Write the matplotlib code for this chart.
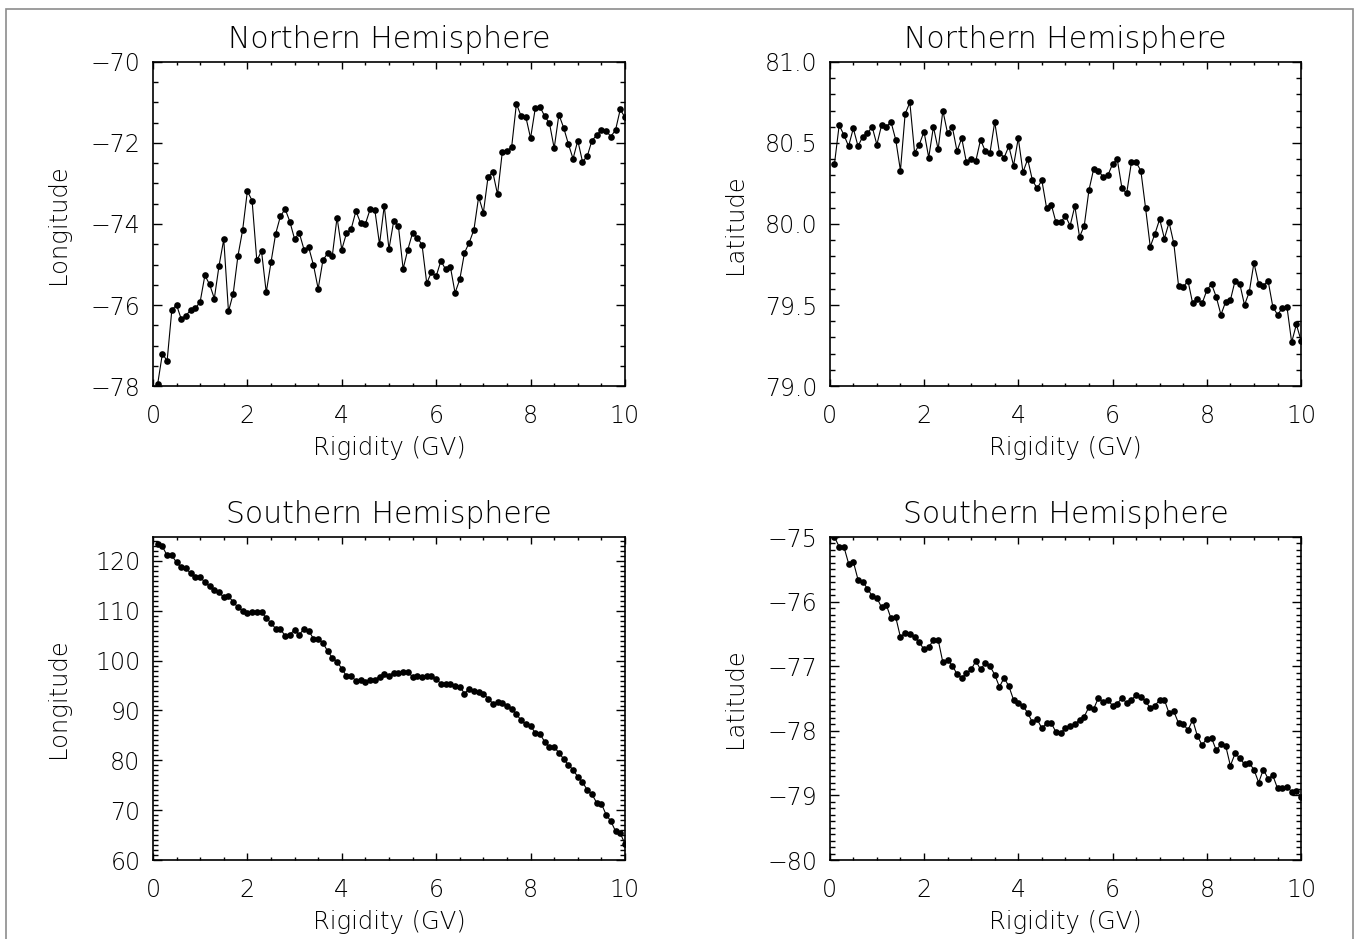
import numpy as np
import matplotlib
matplotlib.use('Agg')
import matplotlib.pyplot as plt
from matplotlib.patches import Rectangle
from matplotlib.ticker import MultipleLocator, FuncFormatter

plt.rcParams['font.family'] = ['DejaVu Sans']
plt.rcParams['font.weight'] = 'light'
plt.rcParams['axes.titleweight'] = 'light'
plt.rcParams['axes.labelweight'] = 'light'

# Rigidity grid (GV)
rigidity = np.round(np.arange(1, 101) * 0.1, 1)

# Northern hemisphere longitude
lon_north = [
    -77.95, -77.20, -77.38, -76.12, -76.00, -76.35, -76.26, -76.12, -76.08, -75.92,
    -75.27, -75.49, -75.84, -75.03, -74.38, -76.16, -75.72, -74.79, -74.15, -73.19,
    -73.42, -74.90, -74.67, -75.69, -74.95, -74.24, -73.81, -73.63, -73.94, -74.37,
    -74.22, -74.63, -74.58, -75.01, -75.60, -74.90, -74.72, -74.78, -73.84, -74.63,
    -74.23, -74.12, -73.68, -73.98, -74.00, -73.64, -73.65, -74.50, -73.55, -74.62,
    -73.93, -74.05, -75.11, -74.63, -74.22, -74.34, -74.51, -75.46, -75.19, -75.29,
    -74.91, -75.12, -75.05, -75.70, -75.37, -74.71, -74.46, -74.14, -73.33, -73.72,
    -72.83, -72.72, -73.27, -72.23, -72.21, -72.09, -71.03, -71.34, -71.36, -71.88,
    -71.14, -71.11, -71.34, -71.51, -72.13, -71.30, -71.62, -72.02, -72.39, -71.94,
    -72.46, -72.33, -71.94, -71.81, -71.68, -71.70, -71.84, -71.68, -71.17, -71.37,
]

# Northern hemisphere latitude
lat_north = [
    80.37, 80.61, 80.55, 80.48, 80.59, 80.48, 80.54, 80.56, 80.60, 80.49,
    80.61, 80.60, 80.63, 80.52, 80.33, 80.68, 80.75, 80.44, 80.49, 80.57,
    80.41, 80.60, 80.46, 80.70, 80.56, 80.60, 80.45, 80.53, 80.38, 80.40,
    80.39, 80.52, 80.45, 80.44, 80.63, 80.44, 80.41, 80.48, 80.36, 80.53,
    80.32, 80.40, 80.27, 80.22, 80.27, 80.10, 80.12, 80.01, 80.01, 80.05,
    79.99, 80.11, 79.92, 79.99, 80.21, 80.34, 80.33, 80.29, 80.30, 80.37,
    80.40, 80.22, 80.19, 80.38, 80.38, 80.33, 80.10, 79.86, 79.94, 80.03,
    79.91, 80.01, 79.88, 79.62, 79.61, 79.65, 79.51, 79.54, 79.51, 79.59,
    79.63, 79.55, 79.44, 79.52, 79.53, 79.65, 79.63, 79.50, 79.58, 79.76,
    79.63, 79.62, 79.65, 79.49, 79.44, 79.48, 79.49, 79.27, 79.38, 79.28,
]

# Southern hemisphere longitude
lon_south = [
    123.4, 122.9, 121.1, 121.1, 119.7, 118.7, 118.5, 117.5, 116.8, 116.8,
    115.7, 114.9, 114.2, 113.7, 112.7, 112.9, 111.8, 110.7, 110.0, 109.6,
    109.8, 109.7, 109.8, 108.5, 107.6, 106.4, 106.3, 105.0, 105.2, 106.2,
    105.2, 106.4, 106.0, 104.4, 104.4, 103.6, 101.9, 100.6, 99.8, 98.4,
    96.9, 97.0, 95.9, 96.2, 95.8, 96.1, 96.2, 96.8, 97.4, 97.0,
    97.6, 97.5, 97.8, 97.8, 96.7, 97.0, 96.8, 97.0, 97.0, 96.3,
    95.4, 95.3, 95.4, 95.0, 94.8, 93.4, 94.4, 94.0, 93.7, 93.4,
    92.4, 91.4, 91.7, 91.5, 91.0, 90.3, 89.3, 88.0, 87.2, 86.9,
    85.5, 85.3, 83.7, 82.7, 82.7, 81.5, 80.3, 79.1, 78.1, 76.7,
    75.6, 74.1, 73.2, 71.5, 71.3, 69.1, 67.8, 65.8, 65.4, 63.2,
]

# Southern hemisphere latitude
lat_south = [
    -75.00, -75.15, -75.15, -75.41, -75.38, -75.66, -75.69, -75.80, -75.91, -75.94,
    -76.09, -76.05, -76.26, -76.24, -76.55, -76.48, -76.50, -76.55, -76.63, -76.74,
    -76.71, -76.59, -76.59, -76.94, -76.90, -76.99, -77.12, -77.18, -77.11, -77.05,
    -76.92, -77.05, -76.95, -77.00, -77.13, -77.32, -77.18, -77.31, -77.52, -77.57,
    -77.62, -77.72, -77.87, -77.82, -77.96, -77.88, -77.88, -78.02, -78.03, -77.96,
    -77.93, -77.90, -77.83, -77.78, -77.63, -77.66, -77.49, -77.55, -77.52, -77.61,
    -77.58, -77.49, -77.57, -77.53, -77.44, -77.48, -77.54, -77.65, -77.61, -77.52,
    -77.52, -77.73, -77.70, -77.88, -77.89, -77.99, -77.83, -78.08, -78.22, -78.12,
    -78.11, -78.30, -78.21, -78.23, -78.54, -78.35, -78.42, -78.52, -78.50, -78.60,
    -78.80, -78.60, -78.74, -78.69, -78.89, -78.88, -78.87, -78.94, -78.93, -79.02,
]


def tick_fmt(decimals):
    # wide minus sign for negative tick values
    return FuncFormatter(lambda v, pos: f'{v:.{decimals}f}'.replace('-', '\u2212'))


fig = plt.figure(figsize=(13.56, 9.39), dpi=100)

# left, bottom, width, height / ylim / major, minor / decimals / title, ylabel
panels = [
    ([0.1128, 0.5889, 0.3481, 0.3451], lon_north, (-78, -70), 2, 0.5, 0,
     'Northern Hemisphere', 'Longitude'),
    ([0.6119, 0.5889, 0.3476, 0.3451], lat_north, (79, 81), 0.5, 0.1, 1,
     'Northern Hemisphere', 'Latitude'),
    ([0.1128, 0.0841, 0.3481, 0.3440], lon_south, (60, 124.8), 10, 1, 0,
     'Southern Hemisphere', 'Longitude'),
    ([0.6119, 0.0841, 0.3476, 0.3440], lat_south, (-80, -75), 1, 0.1, 0,
     'Southern Hemisphere', 'Latitude'),
]

for rect, vals, ylim, major, minor, dec, title, ylabel in panels:
    ax = fig.add_axes(rect)
    ax.plot(rigidity, vals, color='black', lw=0.8, marker='o', ms=4.8,
            markeredgewidth=0)
    ax.set_xlim(0, 10)
    ax.set_ylim(*ylim)
    ax.xaxis.set_major_locator(MultipleLocator(2))
    ax.xaxis.set_minor_locator(MultipleLocator(0.5))
    ax.yaxis.set_major_locator(MultipleLocator(major))
    ax.yaxis.set_minor_locator(MultipleLocator(minor))
    ax.yaxis.set_major_formatter(tick_fmt(dec))
    ax.tick_params(axis='both', which='both', direction='in', top=True,
                   right=True, width=1, labelsize=17)
    ax.tick_params(axis='y', which='major', length=6.8, pad=9)
    ax.tick_params(axis='y', which='minor', length=3.4)
    ax.tick_params(axis='x', which='major', length=4.7, pad=13)
    ax.tick_params(axis='x', which='minor', length=2.3)
    for sp in ax.spines.values():
        sp.set_linewidth(1.2)
    ax.set_title(title, fontsize=21.5, pad=10)
    ax.set_xlabel('Rigidity (GV)', fontsize=17.5, labelpad=6)
    ax.set_ylabel(ylabel, fontsize=17.5)
    ax.yaxis.set_label_coords(-0.175, 0.5)

# thin frame around the page
fig.add_artist(Rectangle((6 / 1356, -0.02), 1347 / 1356, 1.0104,
                         transform=fig.transFigure, fill=False,
                         edgecolor='#8c8c8c', lw=1.2))

fig.savefig('out.png', dpi=100)
